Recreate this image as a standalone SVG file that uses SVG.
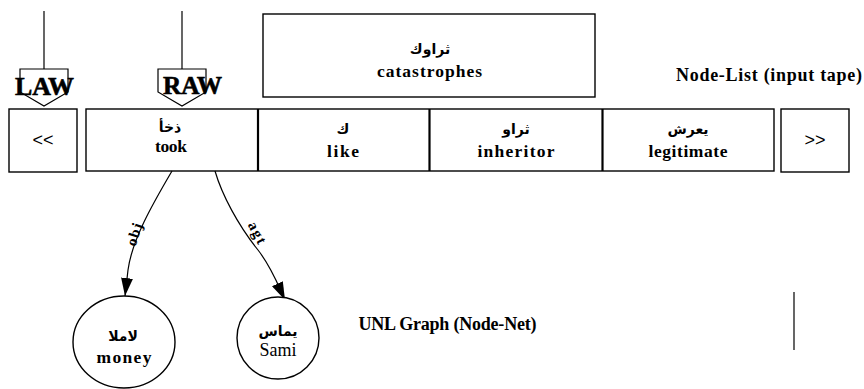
<svg xmlns="http://www.w3.org/2000/svg" width="864" height="389" viewBox="0 0 864 389">
<defs>
<style>
.box{fill:#fff;stroke:#000;stroke-width:1.4}
.div{stroke:#000;stroke-width:2.2}
.ln{fill:none;stroke:#000;stroke-width:1.2}
.en{font-family:"Liberation Serif","Times New Roman",serif;font-weight:bold;font-size:17.5px;fill:#000;text-anchor:middle}
.lbl{font-size:15px}
.hd{font-size:18px}
.ar{font-family:"DejaVu Sans","Noto Sans",sans-serif;font-weight:bold;font-size:14px;fill:#000;text-anchor:middle}
.big{font-family:"Liberation Serif","Times New Roman",serif;font-weight:bold;font-size:26px;fill:#000;text-anchor:middle;stroke:#000;stroke-width:0.6}
.sym{font-family:"Liberation Sans",Arial,sans-serif;font-size:18px;fill:#000;text-anchor:middle}
</style>
<marker id="ah" markerWidth="18" markerHeight="12" refX="18" refY="6" orient="auto" markerUnits="userSpaceOnUse">
<path d="M0,0 L18,6 L0,12 Z" fill="#000"/>
</marker>
</defs>

<g id="law-pointer">
<line class="ln" x1="44" y1="11" x2="44" y2="69"/>
<polygon class="ln" points="20,69 68,69 68,92 44,106 20,92"/>
<text class="big" x="44.5" y="95" textLength="59" lengthAdjust="spacingAndGlyphs">LAW</text>
</g>
<g id="raw-pointer">
<line class="ln" x1="182" y1="11" x2="182" y2="69"/>
<polygon class="ln" points="158,69 206,69 206,92 182,106 158,92"/>
<text class="big" x="192.5" y="94" textLength="59" lengthAdjust="spacingAndGlyphs">RAW</text>
</g>

<g id="catastrophes">
<rect class="box" x="263" y="14" width="332" height="83"/>
<text class="ar" x="430" y="54">ثراوك</text>
<text class="en" x="429.5" y="77" textLength="105" lengthAdjust="spacing">catastrophes</text>
</g>

<text class="en hd" x="769" y="81" textLength="186" lengthAdjust="spacing">Node-List (input tape)</text>

<g id="left-scroll">
<rect class="box" x="9" y="109" width="68" height="63"/>
<text class="sym" x="43" y="146">&lt;&lt;</text>
</g>

<g id="tape">
<rect class="box" x="86" y="109" width="688" height="62"/>
<line class="div" x1="258" y1="109" x2="258" y2="171"/>
<line class="div" x1="429.5" y1="109" x2="429.5" y2="171"/>
<line class="div" x1="602.5" y1="109" x2="602.5" y2="171"/>
</g>
<g id="took">
<text class="ar" x="170" y="132">ذخأ</text>
<text class="en" x="171" y="152" textLength="32" lengthAdjust="spacing">took</text>
</g>
<g id="like">
<text class="ar" x="343" y="134">ك</text>
<text class="en" x="343" y="157" textLength="32" lengthAdjust="spacing">like</text>
</g>
<g id="inheritor">
<text class="ar" x="516" y="134">ثراو</text>
<text class="en" x="516" y="157" textLength="77" lengthAdjust="spacing">inheritor</text>
</g>
<g id="legitimate">
<text class="ar" x="688" y="134">يعرش</text>
<text class="en" x="688" y="157" textLength="79" lengthAdjust="spacing">legitimate</text>
</g>

<g id="right-scroll">
<rect class="box" x="781" y="109" width="68" height="63"/>
<text class="sym" x="815" y="146">&gt;&gt;</text>
</g>

<g id="connectors">
<path class="ln" d="M172,171 C152,205 132,240 128,270 L125,296" marker-end="url(#ah)"/>
<path class="ln" d="M215,171 C222,195 238,225 258,250 C272,268 278,285 285,300" marker-end="url(#ah)"/>
<text class="en lbl" transform="translate(139,236) rotate(-72)" textLength="23" lengthAdjust="spacing">obj</text>
<text class="en lbl" transform="translate(253,235) rotate(62)" textLength="23" lengthAdjust="spacing">agt</text>
</g>

<g id="money">
<ellipse class="box" cx="124" cy="342" rx="51" ry="46"/>
<text class="ar" x="123" y="341">لاملا</text>
<text class="en" x="124" y="363" textLength="55" lengthAdjust="spacing">money</text>
</g>
<g id="sami">
<ellipse class="box" cx="278" cy="338" rx="41" ry="41"/>
<text class="ar" x="278" y="336">يماس</text>
<text x="278" y="356" font-family="Liberation Serif, serif" font-size="18" text-anchor="middle">Sami</text>
</g>

<text class="en hd" x="447.5" y="330" textLength="178" lengthAdjust="spacing">UNL Graph (Node-Net)</text>
<line class="ln" x1="794" y1="292" x2="794" y2="350"/>
</svg>
